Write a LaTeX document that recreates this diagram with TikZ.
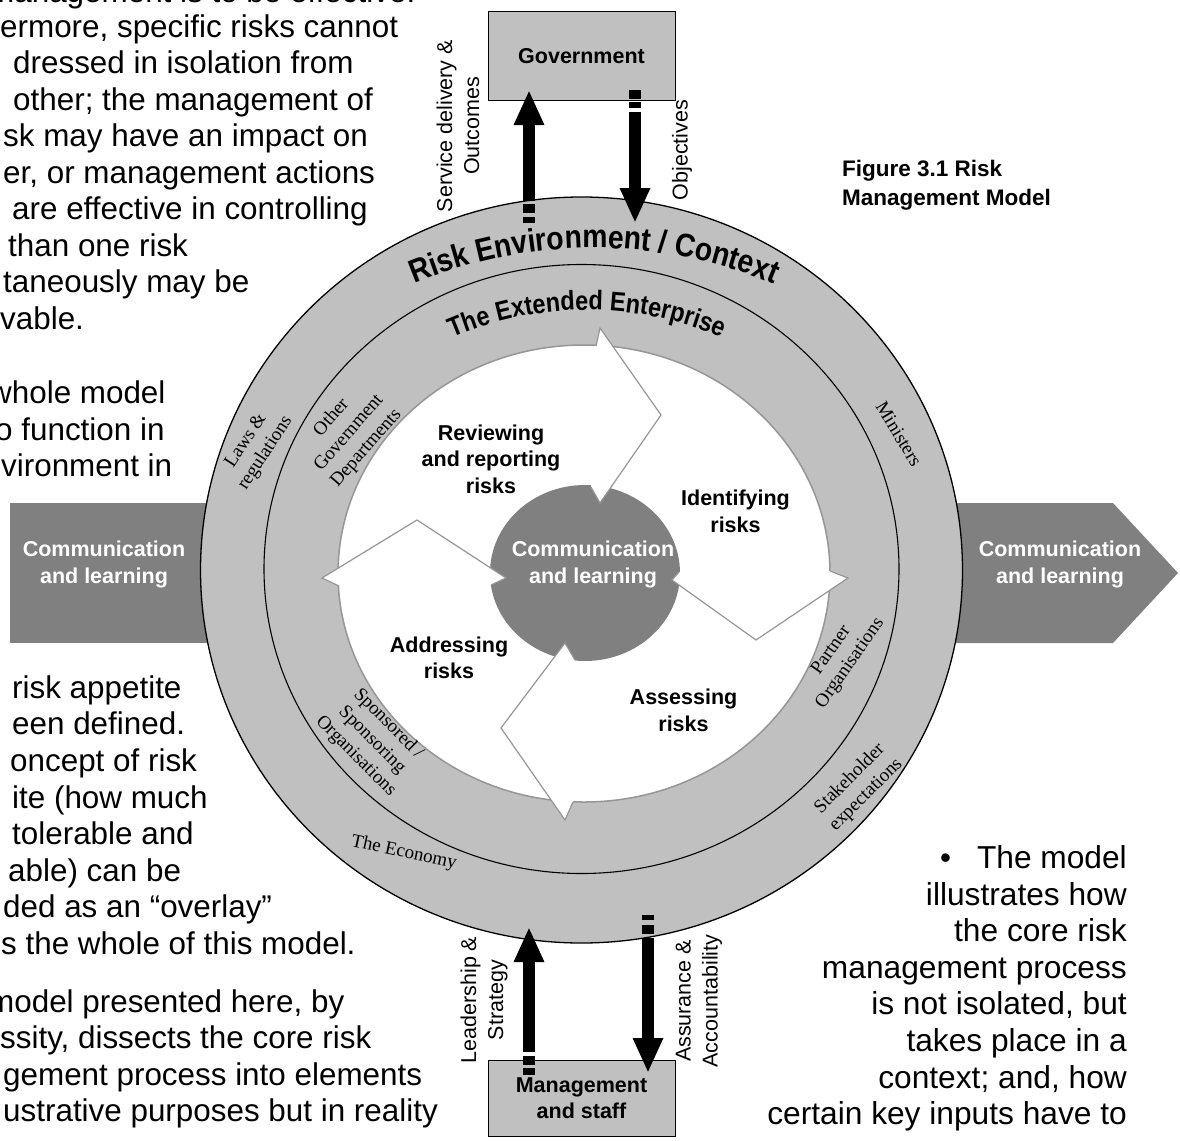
\documentclass[tikz,border=0pt]{standalone}
\usepackage{fontspec}
\setmainfont{Liberation Serif}
\setsansfont{Liberation Sans}
\newfontfamily\ringtitle[FakeStretch=0.87]{Liberation Sans}
\usetikzlibrary{arrows.meta, positioning, decorations.text}

\definecolor{ringgray}{RGB}{192,192,192}
\definecolor{hubgray}{RGB}{128,128,128}
\definecolor{edgegray}{RGB}{150,150,150}

\newcommand{\bodyfont}{\sffamily\fontsize{31.4}{36.6}\selectfont}
\newcommand{\lblfont}{\sffamily\bfseries\fontsize{21.5}{26.5}\selectfont}
\newcommand{\tagfont}{\rmfamily\fontsize{19}{23}\selectfont}
\newcommand{\stub}[3]{\fill (#1-6.25,#2) rectangle (#1+6.25,#3);}

\begin{document}
\begin{tikzpicture}[
    x=1pt, y=-1pt,
    every node/.style={inner sep=0pt, align=center},
    body/.style={font=\bodyfont, anchor=base west},
    bodyr/.style={font=\sffamily\fontsize{31.7}{36.6}\selectfont, anchor=base east},
    lbl/.style={font=\lblfont},
    wlbl/.style={font=\lblfont, text=white},
    tag/.style={font=\tagfont},
    side/.style={font=\sffamily\fontsize{21.5}{27}\selectfont},
    party/.style={rectangle, draw=black, fill=ringgray, line width=1pt, minimum width=187pt, minimum height=88pt, font=\lblfont},
    bigarrow/.style={line width=12.5pt, -{Triangle[width=28pt, length=35pt]}},
    chev/.style={draw=edgegray, line width=1.2pt, line join=miter}
]
\useasboundingbox (0,0) rectangle (1180,1140);
\clip (0,0) rectangle (1180,1140);

% Side channels
\fill[hubgray] (10,503) rectangle (260,643);
\fill[hubgray] (900,503) -- (1113,503) -- (1178,573) -- (1113,643) -- (900,643) -- cycle;

% Rings
\filldraw[fill=ringgray, draw=black, line width=1.3pt] (581.5,570) ellipse [x radius=381pt, y radius=373pt];
\draw[line width=1.1pt] (581.5,569) ellipse [x radius=317.5pt, y radius=304.5pt];
\filldraw[fill=white, draw=edgegray, line width=1.5pt] (584,573.5) ellipse [x radius=246pt, y radius=228.5pt];
\fill[hubgray] (585,573) ellipse [x radius=95pt, y radius=88pt];

% Process chevrons
\fill[white] (596,346) -- (600,328) -- (661,415) -- (600,503) -- (591,487) -- cycle;
\draw[chev] (596,346) -- (600,328) -- (661,415) -- (600,503) -- (591,487);
\fill[white] (830,571) -- (848,578) -- (756,640) -- (672,580) -- (679,572) -- cycle;
\draw[chev] (830,571) -- (848,578) -- (756,640) -- (672,580) -- (679,572);
\fill[white] (573,802) -- (565,820) -- (501,728) -- (565,643) -- (575,660) -- cycle;
\draw[chev] (573,802) -- (565,820) -- (501,728) -- (565,643) -- (575,660);
\fill[white] (339,586) -- (322,578) -- (417,520) -- (506,578) -- (491,585) -- cycle;
\draw[chev] (339,586) -- (322,578) -- (417,520) -- (506,578) -- (491,585);

% Labels of the process
\node[wlbl] (hub) at (593,564.5) {Communication\\and learning};
\node[wlbl] (commL) at (104,564.5) {Communication\\and learning};
\node[wlbl] (commR) at (1060,564.5) {Communication\\and learning};
\node[lbl] (review) at (491,459) {Reviewing\\and reporting\\risks};
\node[lbl] (identify) at (735.5,511.5) {Identifying\\risks};
\node[lbl] (address) at (449,658) {Addressing\\risks};
\node[lbl] (assess) at (683.5,710.5) {Assessing\\risks};

% Curved ring titles
\path[decorate, decoration={text along path, text align=center,
    text={|\ringtitle\bfseries\fontsize{32.5}{34}\selectfont|Risk Environment / Context}}]
    ([shift={(120:466pt)}]594,714) arc[start angle=120, end angle=60, radius=466pt];
\path[decorate, decoration={text along path, text align=center,
    text={|\ringtitle\bfseries\fontsize{27}{29}\selectfont|The Extended Enterprise}}]
    ([shift={(120:342pt)}]587,652) arc[start angle=120, end angle=60, radius=342pt];

% Ring tags
\node[tag, rotate=57] (laws) at (256,447) {Laws \&\\regulations};
\node[tag, rotate=49] (ogd) at (349,433) {Other\\Government\\Departments};
\node[tag, rotate=-59] (ministers) at (899,434) {Ministers};
\node[tag, rotate=55] (partner) at (841,657) {Partner\\Organisations};
\node[tag, rotate=45] (stake) at (858,787) {Stakeholder\\expectations};
\node[tag, rotate=-12] (economy) at (404,853) {The Economy};
\node[tag, rotate=-45] (sponsor) at (372,740) {Sponsored /\\Sponsoring\\Organisations};

% Government and management
\node[party] (gov) at (581.5,56) {Government};
\node[party, minimum height=76pt] (mgmt) at (581.5,1098) {Management\\and staff};

\coordinate (svcA) at (529,201);
\coordinate (svcB) at (529,90);
\coordinate (objA) at (635,112);
\coordinate (objB) at (635,223);
\coordinate (leadA) at (529,1052);
\coordinate (leadB) at (529,927);
\coordinate (assA) at (648,938);
\coordinate (assB) at (648,1073);
\draw[bigarrow] (svcA) -- (svcB);
\draw[bigarrow] (objA) -- (objB);
\draw[bigarrow] (leadA) -- (leadB);
\draw[bigarrow] (assA) -- (assB);
\stub{529}{204}{213}
\stub{529}{216.5}{222.5}
\stub{635}{90}{99}
\stub{635}{102}{108}
\stub{529}{1056}{1065}
\stub{529}{1068}{1075}
\stub{648}{915}{920}
\stub{648}{925}{934}

\node[side, rotate=90] (svcLbl) at (458,126) {Service delivery \&\\Outcomes};
\node[side, rotate=90] (objLbl) at (682,150) {Objectives};
\node[side, rotate=90] (leadLbl) at (484,1000) {Leadership \&\\Strategy};
\node[side, rotate=90] (assLbl) at (699,1001) {Assurance \&\\Accountability};

% Caption
\node[font=\sffamily\bfseries\fontsize{22.5}{28.5}\selectfont, align=left, anchor=west] (caption) at (842,185.4) {Figure 3.1 Risk\\Management Model};

% Surrounding body text
\foreach \y/\x/\txt [count=\n] in {
    2.5/-12/{management is to be effective.},
    37.3/0/{ermore, specific risks cannot},
    73.8/13/{dressed in isolation from},
    110.3/13/{other; the management of},
    146.8/3/{sk may have an impact on},
    183.3/3/{er, or management actions},
    219.8/12/{are effective in controlling},
    256.3/8/{than one risk},
    292.8/3/{taneously may be},
    329.3/0/{vable.},
    403.3/-11/{whole model},
    440/-5/{o function in},
    476.5/1/{vironment in},
    698.3/12/{risk appetite},
    734.9/12/{een defined.},
    771.5/10/{oncept of risk},
    808.1/12/{ite (how much},
    844.7/12/{tolerable and},
    881.3/8/{able) can be},
    917.9/3/{ded as an “overlay”},
    954.5/1/{s the whole of this model.},
    1012/-12/{model presented here, by},
    1048.6/0/{ssity, dissects the core risk},
    1085.2/3/{gement process into elements},
    1121.8/3/{ustrative purposes but in reality}}
    \node[body] (left\n) at (\x,\y) {\txt};

\node[body] (bullet) at (940,868.5) {\textbullet};
\foreach \y/\txt [count=\n] in {
    868.5/{The model},
    905.1/{illustrates how},
    941.7/{the core risk},
    978.3/{management process},
    1014.9/{is not isolated, but},
    1051.5/{takes place in a},
    1088.1/{context; and, how},
    1124.7/{certain key inputs have to}}
    \node[bodyr] (right\n) at (1127,\y) {\txt};
\end{tikzpicture}
\end{document}
